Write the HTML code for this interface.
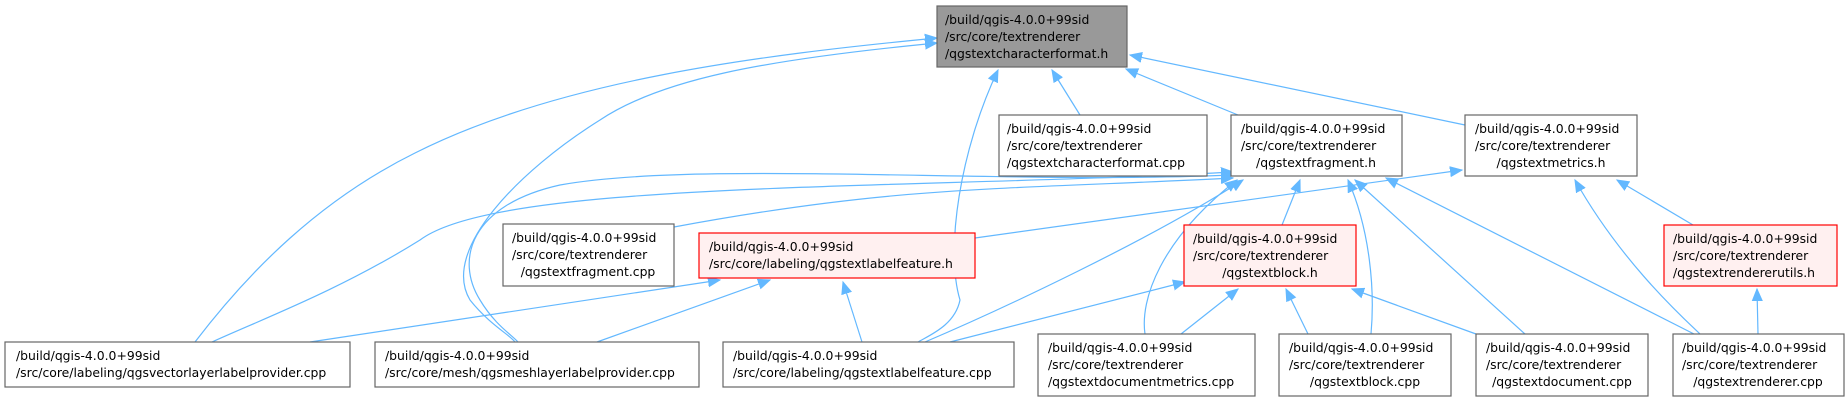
<!DOCTYPE html>
<html><head><meta charset="utf-8"><style>
html,body{margin:0;padding:0;background:#fff;}
svg{display:block;}
text{font-family:"DejaVu Sans","Liberation Sans",sans-serif;font-size:12.4px;fill:#000;}
.e{fill:none;stroke:#63b8ff;stroke-width:1.2;}
.n{fill:#fff;stroke:#666;stroke-width:1.2;}
.r{fill:#fff0f0;stroke:#f00;stroke-width:1.2;}
</style></head><body>
<svg width="1846" height="401" viewBox="0 0 1846 401" xmlns="http://www.w3.org/2000/svg">
<defs>
<marker id="a" markerWidth="14" markerHeight="12" refX="12" refY="6" orient="auto-start-reverse" markerUnits="userSpaceOnUse">
<path d="M0,1 L12,6 L0,11 Z" fill="#63b8ff" stroke="#63b8ff"/>
</marker>
</defs>
<g class="e" marker-start="url(#a)">
<path d="M937,38 C760,55 560,80 415,153 C320,200 250,270 195,342"/>
<path d="M937,43 C760,60 660,80 600,120 C520,170 440,250 470,300 C490,325 510,335 515,342"/>
<path d="M998,70 C960,150 945,250 960,300 C955,325 930,335 918,342"/>
<path d="M1052,70 L1080,115"/>
<path d="M1126,69 L1238,115"/>
<path d="M1130,55 L1465,125"/>
<path d="M1233,172 C900,190 500,180 420,240 C340,290 260,320 212,342"/>
<path d="M1233,175 C1000,185 700,160 560,185 C470,205 455,260 480,300 C495,325 512,335 518,342"/>
<path d="M1233,178 C1000,190 900,185 674,227"/>
<path d="M1243,180 C1150,240 1000,310 925,342"/>
<path d="M1300,180 L1282,225"/>
<path d="M1237,180 C1160,240 1140,300 1145,334"/>
<path d="M1348,180 C1370,230 1375,290 1371,334"/>
<path d="M1355,180 L1525,334"/>
<path d="M1386,178 L1694,334"/>
<path d="M1462,170 L975,238"/>
<path d="M1617,180 L1693,225"/>
<path d="M1575,180 C1620,260 1680,315 1700,334"/>
<path d="M720,280 L310,342"/>
<path d="M770,280 L597,342"/>
<path d="M843,282 L862,342"/>
<path d="M1185,282 L950,342"/>
<path d="M1238,289 L1181,334"/>
<path d="M1286,289 L1308,334"/>
<path d="M1352,289 L1476,334"/>
<path d="M1757,289 L1758,334"/>
</g>

<rect x="937" y="6" width="190" height="61" fill="#999" stroke="#666" stroke-width="1.2"/>
<text x="945" y="24">/build/qgis-4.0.0+99sid</text>
<text x="945" y="41">/src/core/textrenderer</text>
<text x="945" y="58">/qgstextcharacterformat.h</text>

<rect class="n" x="999" y="115" width="208" height="61"/>
<text x="1007" y="133">/build/qgis-4.0.0+99sid</text>
<text x="1007" y="150">/src/core/textrenderer</text>
<text x="1007" y="167">/qgstextcharacterformat.cpp</text>

<rect class="n" x="1231" y="115" width="171" height="61"/>
<text x="1241" y="133">/build/qgis-4.0.0+99sid</text>
<text x="1241" y="150">/src/core/textrenderer</text>
<text x="1316" y="167" text-anchor="middle">/qgstextfragment.h</text>

<rect class="n" x="1465" y="115" width="172" height="61"/>
<text x="1475" y="133">/build/qgis-4.0.0+99sid</text>
<text x="1475" y="150">/src/core/textrenderer</text>
<text x="1551" y="167" text-anchor="middle">/qgstextmetrics.h</text>

<rect class="n" x="503" y="224" width="171" height="62"/>
<text x="512" y="242">/build/qgis-4.0.0+99sid</text>
<text x="512" y="259">/src/core/textrenderer</text>
<text x="588" y="276" text-anchor="middle">/qgstextfragment.cpp</text>

<rect class="r" x="699" y="233" width="276" height="45"/>
<text x="709" y="251">/build/qgis-4.0.0+99sid</text>
<text x="709" y="268">/src/core/labeling/qgstextlabelfeature.h</text>

<rect class="r" x="1184" y="225" width="172" height="61"/>
<text x="1193" y="243">/build/qgis-4.0.0+99sid</text>
<text x="1193" y="260">/src/core/textrenderer</text>
<text x="1270" y="277" text-anchor="middle">/qgstextblock.h</text>

<rect class="r" x="1664" y="225" width="173" height="61"/>
<text x="1673" y="243">/build/qgis-4.0.0+99sid</text>
<text x="1673" y="260">/src/core/textrenderer</text>
<text x="1673" y="277">/qgstextrendererutils.h</text>

<rect class="n" x="5" y="342" width="345" height="45"/>
<text x="16" y="360">/build/qgis-4.0.0+99sid</text>
<text x="16" y="377">/src/core/labeling/qgsvectorlayerlabelprovider.cpp</text>

<rect class="n" x="375" y="342" width="324" height="45"/>
<text x="385" y="360">/build/qgis-4.0.0+99sid</text>
<text x="385" y="377">/src/core/mesh/qgsmeshlayerlabelprovider.cpp</text>

<rect class="n" x="723" y="342" width="291" height="45"/>
<text x="733" y="360">/build/qgis-4.0.0+99sid</text>
<text x="733" y="377">/src/core/labeling/qgstextlabelfeature.cpp</text>

<rect class="n" x="1038" y="334" width="217" height="62"/>
<text x="1048" y="352">/build/qgis-4.0.0+99sid</text>
<text x="1048" y="369">/src/core/textrenderer</text>
<text x="1048" y="386">/qgstextdocumentmetrics.cpp</text>

<rect class="n" x="1279" y="334" width="172" height="62"/>
<text x="1289" y="352">/build/qgis-4.0.0+99sid</text>
<text x="1289" y="369">/src/core/textrenderer</text>
<text x="1365" y="386" text-anchor="middle">/qgstextblock.cpp</text>

<rect class="n" x="1476" y="334" width="172" height="62"/>
<text x="1486" y="352">/build/qgis-4.0.0+99sid</text>
<text x="1486" y="369">/src/core/textrenderer</text>
<text x="1562" y="386" text-anchor="middle">/qgstextdocument.cpp</text>

<rect class="n" x="1673" y="334" width="171" height="62"/>
<text x="1682" y="352">/build/qgis-4.0.0+99sid</text>
<text x="1682" y="369">/src/core/textrenderer</text>
<text x="1758" y="386" text-anchor="middle">/qgstextrenderer.cpp</text>
</svg>
</body></html>
